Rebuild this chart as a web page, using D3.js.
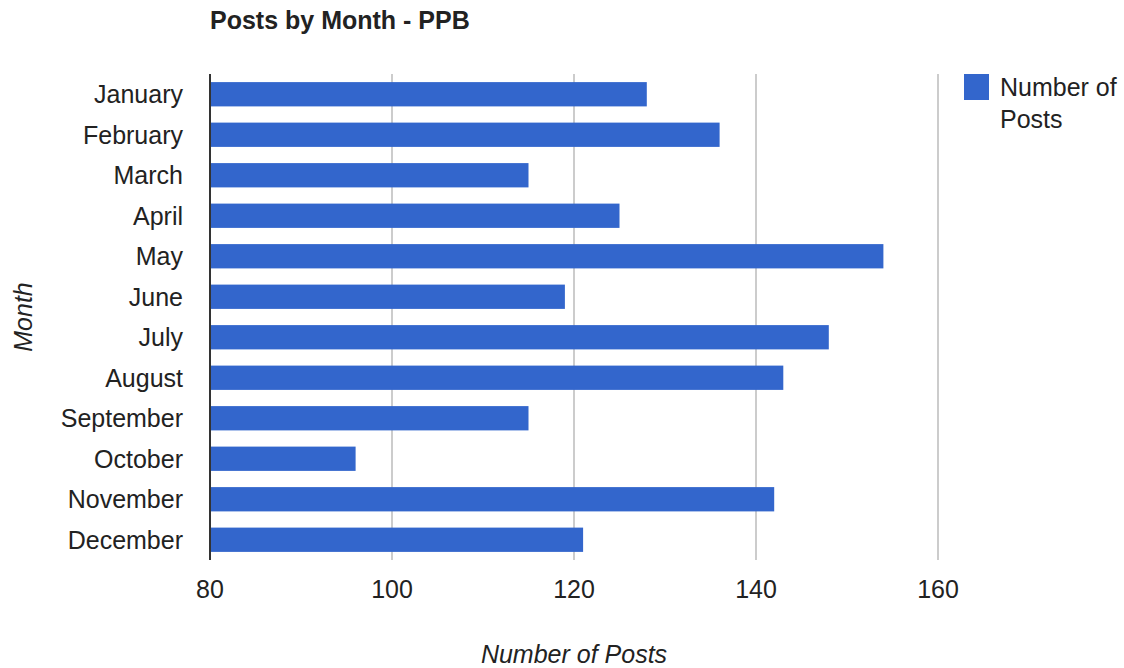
<!DOCTYPE html>
<html>
<head>
<meta charset="utf-8">
<script src="https://cdn.jsdelivr.net/npm/d3@7"></script>
<style>
    body { margin: 0; background: #fff; }
    text { font-family: "Liberation Sans", Arial, sans-serif; fill: #222; }
</style>
</head>
<body>
<svg id="svg" width="1124" height="668"></svg>
<script>
const months = ['January', 'February', 'March', 'April', 'May', 'June',
    'July', 'August', 'September', 'October', 'November', 'December']
const posts = [128, 136, 115, 125, 154, 119, 148, 143, 115, 96, 142, 121]
const xTicks = [80, 100, 120, 140, 160]
const seriesName = ['Number of', 'Posts']

const data = months.map((m, i) => ({ month: m, value: posts[i] }))

const plotLeft = 210, plotRight = 938, plotTop = 74, plotBottom = 560

const x = d3.scaleLinear().domain([80, 160]).range([plotLeft, plotRight])
const y = d3.scaleBand().domain(months).range([plotTop, plotBottom]).paddingInner(0.4).paddingOuter(0.2)

const svg = d3.select('#svg')

// title
svg.append('text')
    .attr('x', plotLeft)
    .attr('y', 29)
    .style('font-size', '25px')
    .style('font-weight', 'bold')
    .text('Posts by Month - PPB')

// gridlines
svg.selectAll('line.grid')
    .data(xTicks.slice(1))
    .enter()
    .append('line')
    .attr('class', 'grid')
    .attr('x1', (d) => x(d))
    .attr('x2', (d) => x(d))
    .attr('y1', plotTop)
    .attr('y2', plotBottom)
    .attr('stroke', '#cccccc')
    .attr('stroke-width', 2)

// bars
svg.selectAll('rect.bar')
    .data(data)
    .enter()
    .append('rect')
    .attr('class', 'bar')
    .attr('x', x(80))
    .attr('y', (d) => y(d.month))
    .attr('width', (d) => x(d.value) - x(80))
    .attr('height', y.bandwidth())
    .attr('fill', '#3366cc')

// baseline
svg.append('line')
    .attr('x1', x(80)).attr('x2', x(80))
    .attr('y1', plotTop).attr('y2', plotBottom)
    .attr('stroke', '#333')
    .attr('stroke-width', 2)

// month labels
svg.selectAll('text.ylab')
    .data(months)
    .enter()
    .append('text')
    .attr('class', 'ylab')
    .attr('x', 183)
    .attr('y', (d) => y(d) + y.bandwidth() / 2 + 9)
    .attr('text-anchor', 'end')
    .style('font-size', '25px')
    .text((d) => d)

// x tick labels
svg.selectAll('text.xlab')
    .data(xTicks)
    .enter()
    .append('text')
    .attr('class', 'xlab')
    .attr('x', (d) => x(d))
    .attr('y', 598)
    .attr('text-anchor', 'middle')
    .style('font-size', '25px')
    .text((d) => d)

// axis titles
svg.append('text')
    .attr('x', (plotLeft + plotRight) / 2)
    .attr('y', 663)
    .attr('text-anchor', 'middle')
    .style('font-size', '25px')
    .style('font-style', 'italic')
    .text('Number of Posts')

svg.append('text')
    .attr('transform', `translate(32, ${(plotTop + plotBottom) / 2}) rotate(-90)`)
    .attr('text-anchor', 'middle')
    .style('font-size', '25px')
    .style('font-style', 'italic')
    .text('Month')

// legend
svg.append('rect')
    .attr('x', 964)
    .attr('y', 74)
    .attr('width', 25)
    .attr('height', 26)
    .attr('fill', '#3366cc')

svg.selectAll('text.leg')
    .data(seriesName)
    .enter()
    .append('text')
    .attr('class', 'leg')
    .attr('x', 1000)
    .attr('y', (d, i) => 96 + i * 32)
    .style('font-size', '25px')
    .text((d) => d)
</script>
</body>
</html>
